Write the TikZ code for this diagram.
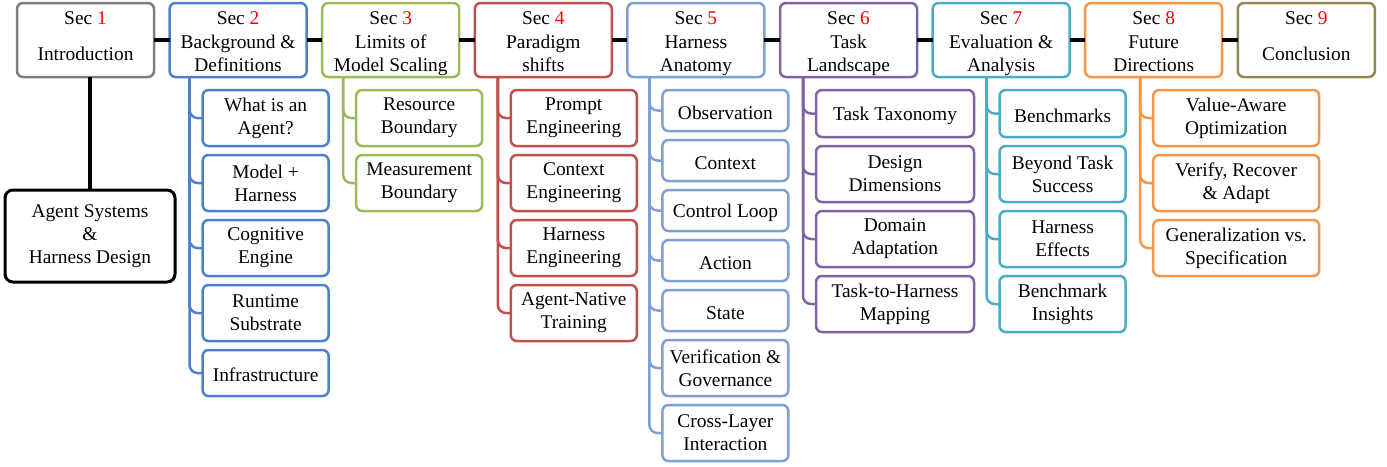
\documentclass[tikz,border=0pt]{standalone}
\usepackage{fontspec}
\setmainfont{Liberation Serif}
\usetikzlibrary{positioning}

\definecolor{introgray}{RGB}{127,127,127}
\definecolor{bgblue}{RGB}{77,128,205}
\definecolor{limgreen}{RGB}{155,187,89}
\definecolor{parared}{RGB}{192,80,77}
\definecolor{anablue}{RGB}{126,160,212}
\definecolor{taskpurple}{RGB}{128,100,162}
\definecolor{evalcyan}{RGB}{75,172,198}
\definecolor{futorange}{RGB}{247,150,70}
\definecolor{concolive}{RGB}{147,137,83}

\newcommand{\sechdr}[3][0pt]{\parbox[c][37pt][t]{66pt}{\centering\rule{0pt}{11pt}Sec \textcolor{red}{#2}\\[#1]#3}}

\begin{document}
\begin{tikzpicture}[x=1pt,y=1pt,font=\fontsize{9.7pt}{11.6pt}\selectfont,
	secbox/.style={draw, rounded corners=3pt, line width=1.25pt, align=center, inner sep=0pt, outer sep=0pt},
	hdr/.style={secbox, minimum width=68.5pt, minimum height=37pt},
	subbox/.style={secbox, minimum width=63pt, minimum height=28pt, execute at begin node=\rule{0pt}{9pt}},
	oneline/.style={minimum height=20.5pt},
	rootbox/.style={secbox, draw=black, line width=1.5pt, rounded corners=4pt, minimum width=85pt, minimum height=46pt},
	hdrlink/.style={line width=2.3pt},
	branch/.style={line width=1.25pt, rounded corners=4pt}]
		\useasboundingbox (0,0) rectangle (693.5,-233);
		% section headers
		\node[hdr, draw=introgray, anchor=north west] (s1) at (8.5,-1.5) {\sechdr[5.9pt]{1}{Introduction}};
		\node[hdr, draw=bgblue] (s2) [right=7.8pt of s1] {\sechdr{2}{Background \&\\Definitions}};
		\node[hdr, draw=limgreen] (s3) [right=7.8pt of s2] {\sechdr{3}{Limits of\\Model Scaling}};
		\node[hdr, draw=parared] (s4) [right=7.8pt of s3] {\sechdr{4}{Paradigm\\shifts}};
		\node[hdr, draw=anablue] (s5) [right=7.8pt of s4] {\sechdr{5}{Harness\\Anatomy}};
		\node[hdr, draw=taskpurple] (s6) [right=7.8pt of s5] {\sechdr{6}{Task\\Landscape}};
		\node[hdr, draw=evalcyan] (s7) [right=7.8pt of s6] {\sechdr{7}{Evaluation \&\\Analysis}};
		\node[hdr, draw=futorange] (s8) [right=7.8pt of s7] {\sechdr{8}{Future\\Directions}};
		\node[hdr, draw=concolive] (s9) [right=7.8pt of s8] {\sechdr[5.9pt]{9}{Conclusion}};
		\foreach \a/\b in {s1/s2,s2/s3,s3/s4,s4/s5,s5/s6,s6/s7,s7/s8,s8/s9}
			\draw[hdrlink] (\a) -- (\b);

		\node[rootbox] (root) [below=56.5pt of s1, xshift=2.25pt] {Agent Systems\\\&\\Harness Design};
		\draw[hdrlink] (root.north) -- (root.north |- s1.south);

		% sec 2
		\node[subbox, draw=bgblue] (a1) [below right=6.5pt and 16.5pt of s2.south west] {What is an\\Agent?};
		\node[subbox, draw=bgblue] (a2) [below=4.5pt of a1] {Model +\\Harness};
		\node[subbox, draw=bgblue] (a3) [below=4.5pt of a2] {Cognitive\\Engine};
		\node[subbox, draw=bgblue] (a4) [below=4.5pt of a3] {Runtime\\Substrate};
		\node[subbox, draw=bgblue, minimum height=23pt] (a5) [below=4.5pt of a4] {Infrastructure};
		\coordinate[xshift=-6.5pt] (t2) at (a1.west |- s2.south);
		\foreach \c in {a1,a2,a3,a4,a5}
			\draw[branch, draw=bgblue] (t2) |- (\c.west);

		% sec 3
		\node[subbox, draw=limgreen] (b1) [below right=6.5pt and 17pt of s3.south west] {Resource\\Boundary};
		\node[subbox, draw=limgreen] (b2) [below=4.5pt of b1] {Measurement\\Boundary};
		\coordinate[xshift=-6.5pt] (t3) at (b1.west |- s3.south);
		\foreach \c in {b1,b2}
			\draw[branch, draw=limgreen] (t3) |- (\c.west);

		% sec 4
		\node[subbox, draw=parared] (c1) [below right=6.5pt and 18pt of s4.south west] {Prompt\\Engineering};
		\node[subbox, draw=parared] (c2) [below=4.5pt of c1] {Context\\Engineering};
		\node[subbox, draw=parared] (c3) [below=4.5pt of c2] {Harness\\Engineering};
		\node[subbox, draw=parared] (c4) [below=4.5pt of c3] {Agent-Native\\Training};
		\coordinate[xshift=-6.5pt] (t4) at (c1.west |- s4.south);
		\foreach \c in {c1,c2,c3,c4}
			\draw[branch, draw=parared] (t4) |- (\c.west);

		% sec 5
		\node[subbox, oneline, draw=anablue] (d1) [below right=6.5pt and 17.5pt of s5.south west] {Observation};
		\node[subbox, oneline, draw=anablue] (d2) [below=4.5pt of d1] {Context};
		\node[subbox, oneline, draw=anablue] (d3) [below=4.5pt of d2] {Control Loop};
		\node[subbox, oneline, draw=anablue] (d4) [below=4.5pt of d3] {Action};
		\node[subbox, oneline, draw=anablue] (d5) [below=4.5pt of d4] {State};
		\node[subbox, draw=anablue] (d6) [below=4.5pt of d5] {Verification \&\\Governance};
		\node[subbox, draw=anablue] (d7) [below=4.5pt of d6] {Cross-Layer\\Interaction};
		\coordinate[xshift=-6.5pt] (t5) at (d1.west |- s5.south);
		\foreach \c in {d1,d2,d3,d4,d5,d6,d7}
			\draw[branch, draw=anablue] (t5) |- (\c.west);

		% sec 6
		\node[subbox, draw=taskpurple, minimum width=79pt, minimum height=23.5pt] (e1) [below right=6.5pt and 18pt of s6.south west] {Task Taxonomy};
		\node[subbox, draw=taskpurple, minimum width=79pt] (e2) [below=4.5pt of e1] {Design\\Dimensions};
		\node[subbox, draw=taskpurple, minimum width=79pt] (e3) [below=4.5pt of e2] {Domain\\Adaptation};
		\node[subbox, draw=taskpurple, minimum width=79pt] (e4) [below=4.5pt of e3] {Task-to-Harness\\Mapping};
		\coordinate[xshift=-6.5pt] (t6) at (e1.west |- s6.south);
		\foreach \c in {e1,e2,e3,e4}
			\draw[branch, draw=taskpurple] (t6) |- (\c.west);

		% sec 7
		\node[subbox, draw=evalcyan, minimum height=23.5pt] (f1) [below right=6.5pt and 33.5pt of s7.south west] {Benchmarks};
		\node[subbox, draw=evalcyan] (f2) [below=4.5pt of f1] {Beyond Task\\Success};
		\node[subbox, draw=evalcyan] (f3) [below=4.5pt of f2] {Harness\\Effects};
		\node[subbox, draw=evalcyan] (f4) [below=4.5pt of f3] {Benchmark\\Insights};
		\coordinate[xshift=-6.5pt] (t7) at (f1.west |- s7.south);
		\foreach \c in {f1,f2,f3,f4}
			\draw[branch, draw=evalcyan] (t7) |- (\c.west);

		% sec 8
		\node[subbox, draw=futorange, minimum width=83pt] (g1) [below right=6.5pt and 34pt of s8.south west] {Value-Aware\\Optimization};
		\node[subbox, draw=futorange, minimum width=83pt] (g2) [below=4.5pt of g1] {Verify, Recover\\\& Adapt};
		\node[subbox, draw=futorange, minimum width=83pt] (g3) [below=4.5pt of g2] {Generalization vs.\\Specification};
		\coordinate[xshift=-6.5pt] (t8) at (g1.west |- s8.south);
		\foreach \c in {g1,g2,g3}
			\draw[branch, draw=futorange] (t8) |- (\c.west);
\end{tikzpicture}
\end{document}
